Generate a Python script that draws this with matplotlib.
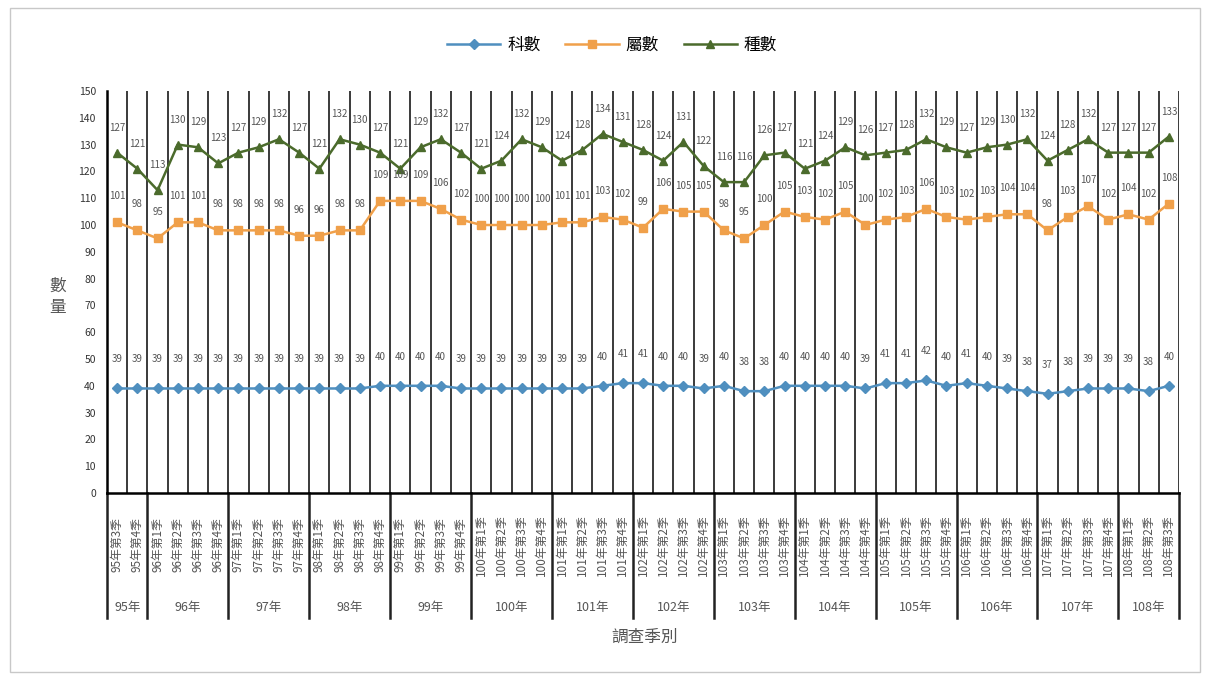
import matplotlib.pyplot as plt
import matplotlib.transforms as mtransforms
from matplotlib.patches import Rectangle

plt.rcParams['font.family'] = ['Noto Sans CJK TC', 'DejaVu Sans']

# survey quarters: 95年第3季 ... 108年第3季
years = list(range(95, 109))
quarters = [(y, q) for y in years for q in range(1, 5)
            if not (y == 95 and q < 3) and not (y == 108 and q > 3)]
quarter_labels = ["%d年第%d季" % (y, q) for y, q in quarters]

family_counts = [39, 39, 39, 39, 39, 39, 39, 39, 39, 39, 39, 39, 39, 40, 40, 40, 40, 39,
                 39, 39, 39, 39, 39, 39, 40, 41, 41, 40, 40, 39, 40, 38, 38, 40, 40, 40,
                 40, 39, 41, 41, 42, 40, 41, 40, 39, 38, 37, 38, 39, 39, 39, 38, 40]
genus_counts = [101, 98, 95, 101, 101, 98, 98, 98, 98, 96, 96, 98, 98, 109, 109, 109, 106, 102,
                100, 100, 100, 100, 101, 101, 103, 102, 99, 106, 105, 105, 98, 95, 100, 105, 103, 102,
                105, 100, 102, 103, 106, 103, 102, 103, 104, 104, 98, 103, 107, 102, 104, 102, 108]
species_counts = [127, 121, 113, 130, 129, 123, 127, 129, 132, 127, 121, 132, 130, 127, 121, 129, 132, 127,
                  121, 124, 132, 129, 124, 128, 134, 131, 128, 124, 131, 122, 116, 116, 126, 127, 121, 124,
                  129, 126, 127, 128, 132, 129, 127, 129, 130, 132, 124, 128, 132, 127, 127, 127, 133]

series = [
    ("科數", family_counts, "#4f8fbf", "D", 5, 28),
    ("屬數", genus_counts, "#f0a04a", "s", 6, 25),
    ("種數", species_counts, "#4b6b2c", "^", 6, 24),
]

n = len(quarter_labels)
x = list(range(n))

fig = plt.figure(figsize=(12.06, 6.75), dpi=100)
W, H = 1206, 675
ax = fig.add_axes([107 / W, 1 - 493 / H, (1179 - 107) / W, (493 - 91) / H])

# outer frame of the picture
fig.patches.append(Rectangle((10 / W, 1 - 672 / H), 1190 / W, 664 / H, transform=fig.transFigure,
                             fill=False, edgecolor="#c8c8c8", linewidth=1.0))

# category separators inside the plot
for i in range(n):
    ax.axvline(i + 0.5, color="#3a3a3a", linewidth=1.4, zorder=1)

for name, vals, color, marker, ms, off in series:
    ax.plot(x, vals, color=color, marker=marker, markersize=ms, linewidth=1.8,
            label=name, zorder=3)
    for xi, v in zip(x, vals):
        ax.annotate(str(v), (xi, v), xytext=(0, off * 0.75), textcoords="offset points",
                    ha="center", va="center", fontsize=7, color="#555555", zorder=4)

ax.set_xlim(-0.5, n - 0.5)
ax.set_ylim(0, 150)
ax.set_yticks(range(0, 151, 10))
ax.tick_params(axis="y", length=0, labelsize=7.5, pad=8, colors="#333333")
ax.set_xticks([])
for s in ["top", "right"]:
    ax.spines[s].set_visible(False)
ax.spines["left"].set_linewidth(1.8)
ax.spines["bottom"].set_linewidth(1.8)

# multi-level category axis below the plot
trans = mtransforms.blended_transform_factory(ax.transData, ax.transAxes)
px = 1 / (493 - 91)
for xi, lab in zip(x, quarter_labels):
    ax.text(xi, -(545 - 493) * px, lab, rotation=90, transform=trans, ha="center", va="center",
            fontsize=8.5, color="#555555")

bounds = [-0.5]
for y in years:
    cnt = sum(1 for yy, _ in quarters if yy == y)
    start = bounds[-1]
    bounds.append(start + cnt)
    ax.text((start + bounds[-1]) / 2, -(607 - 493) * px, "%d年" % y, transform=trans,
            ha="center", va="center", fontsize=9, color="#555555")
for b in bounds:
    ax.plot([b, b], [0, -(618 - 493) * px], transform=trans, color="#222222",
            linewidth=1.8, clip_on=False)

fig.text(645 / W, 1 - 637 / H, "調查季別", ha="center", va="center", fontsize=12, color="#555555")
fig.text(58 / W, 1 - 297 / H, "數\n量", ha="center", va="center", fontsize=12,
         color="#555555", linespacing=1.3)

fig.legend(loc="center", bbox_to_anchor=(612 / W, 1 - 45 / H), ncol=3, frameon=False,
           fontsize=12, handlelength=3.2, columnspacing=1.5, handletextpad=0.4)

fig.savefig("out.png", dpi=100)
